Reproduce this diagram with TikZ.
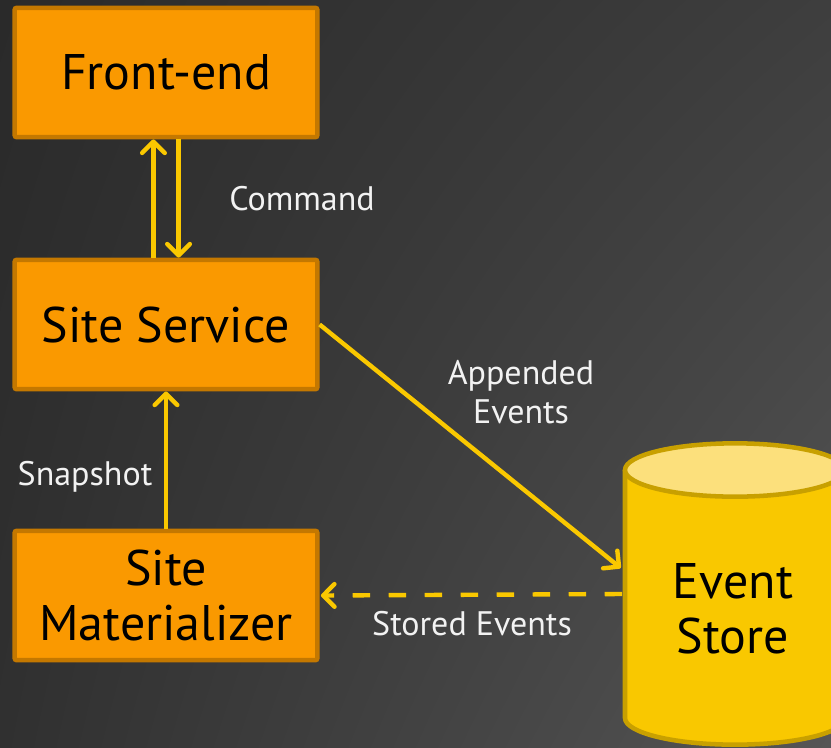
\documentclass[tikz,border=0pt]{standalone}
\usepackage{fontspec}
\setmainfont{PT Sans}
\usetikzlibrary{arrows.meta,shadings}

\definecolor{bgtl}{HTML}{2A2A2A}
\definecolor{bgtr}{HTML}{3E3E3E}
\definecolor{bgbl}{HTML}{303030}
\definecolor{bgbr}{HTML}{555555}
\definecolor{boxfill}{HTML}{FA9900}
\definecolor{boxline}{HTML}{C47800}
\definecolor{flow}{HTML}{FAC800}
\definecolor{dbbody}{HTML}{F9C800}
\definecolor{dbtop}{HTML}{FCE07C}
\definecolor{dbline}{HTML}{C8A000}
\definecolor{labeltext}{HTML}{F2F2F2}

\tikzset{
  compbox/.style={draw=boxline, fill=boxfill, line width=3.4pt, rounded corners=1.5pt,
    minimum width=227pt, minimum height=97pt, align=center,
    font=\fontsize{37.5}{41.5}\selectfont, text=black, inner sep=0pt},
  flowlabel/.style={text=labeltext, font=\fontsize{25.5}{29}\selectfont, align=center, inner sep=0pt},
  flowarrow/.style={draw=flow, line width=3.3pt,
    -{Straight Barb[length=8.5pt,width=17pt,round]}},
  dashedflow/.style={flowarrow, dash pattern=on 13pt off 14pt},
}

\begin{document}
\begin{tikzpicture}[x=0.75pt, y=-0.75pt]
  % canvas
  \useasboundingbox (0,0) rectangle (831,747);
  \shade[upper left=bgtl, upper right=bgtr, lower left=bgbl, lower right=bgbr]
    (0,0) rectangle (831,747);

  % components
  \node[compbox] (fe) at (166,72.5) {Front-end};
  \node[compbox] (ss) at (166,324.5) {Site Service};
  \node[compbox] (sm) at (166,595.5) {Site\\Materializer};

  % event store cylinder
  \node[minimum width=165pt, minimum height=186pt, inner sep=0pt] (es) at (735,594) {};
  \fill[dbbody] (625,470) -- (625,718)
    arc[start angle=180, end angle=360, x radius=82.5pt, y radius=20pt]
    -- (845,470) -- cycle;
  \draw[dbline, line width=3.4pt] (845,470) -- (845,718)
    arc[start angle=360, end angle=180, x radius=82.5pt, y radius=20pt]
    -- (625,470);
  \draw[dbline, fill=dbtop, line width=3.4pt] (735,470)
    ellipse[x radius=82.5pt, y radius=20pt];
  \node[font=\fontsize{37.5}{41.5}\selectfont, align=center, inner sep=0pt] (est) at (733,609) {Event\\Store};

  % connectors
  \draw[flowarrow] ([xshift=-9.4pt]ss.north) -- ([xshift=-9.4pt]fe.south);
  \draw[flowarrow] ([xshift=9.4pt]fe.south) -- ([xshift=9.4pt]ss.north);
  \draw[flowarrow] (sm.north) -- (ss.south);
  \draw[flowarrow] (ss.east) -- ([yshift=19.5pt,xshift=-3pt]es.west);
  \draw[dashedflow] ([xshift=-2pt]es.west) -- ([xshift=1pt]sm.east);

  % labels
  \node[flowlabel, anchor=base] (lcmd) at (302,210) {Command};
  \node[flowlabel] (lapp) at (521,392) {Appended\\Events};
  \node[flowlabel, anchor=base] (lsnap) at (85,485) {Snapshot};
  \node[flowlabel, anchor=base] (lstored) at (472,635) {Stored Events};
\end{tikzpicture}
\end{document}
